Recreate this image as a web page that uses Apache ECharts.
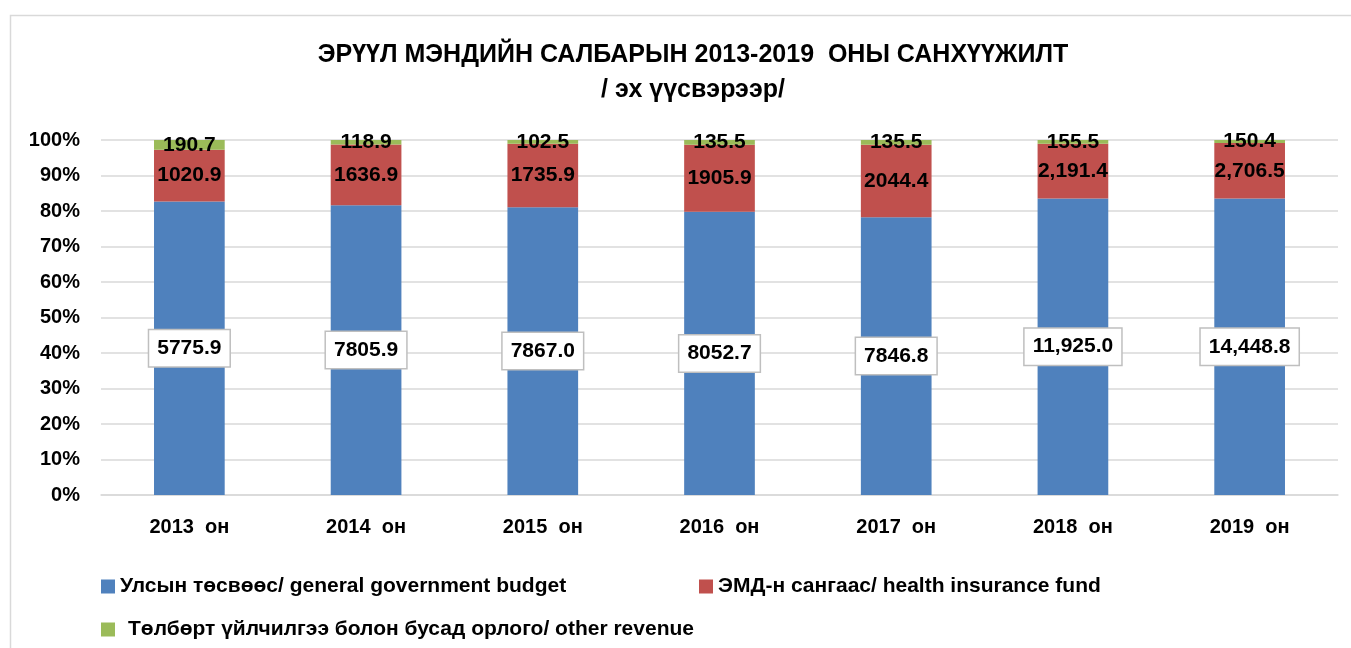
<!DOCTYPE html>
<html>
<head>
<meta charset="utf-8">
<script src="https://cdn.jsdelivr.net/npm/echarts@6/dist/echarts.min.js"></script>
<style>
  html, body { margin: 0; padding: 0; background: #fff; }
  #chart { width: 1351px; height: 648px; }
</style>
</head>
<body>
<div id="chart"></div>
<script>
// Data
var years = ['2013  он', '2014  он', '2015  он', '2016  он', '2017  он', '2018  он', '2019  он'];
var budget = [5775.9, 7805.9, 7867.0, 8052.7, 7846.8, 11925.0, 14448.8];
var insurance = [1020.9, 1636.9, 1735.9, 1905.9, 2044.4, 2191.4, 2706.5];
var other = [190.7, 118.9, 102.5, 135.5, 135.5, 155.5, 150.4];
// years from this index on show thousands separators in their labels
var commaFrom = 5;

var seriesNames = [
    'Улсын төсвөөс/ general government budget',
    'ЭМД-н сангаас/ health insurance fund',
    'Төлбөрт үйлчилгээ болон бусад орлого/ other revenue'
];
var titleLines = [
    'ЭРҮҮЛ МЭНДИЙН САЛБАРЫН 2013-2019  ОНЫ САНХҮҮЖИЛТ',
    '/ эх үүсвэрээр/'
];

var FONT = '"Liberation Sans", Arial, sans-serif';

var totals = years.map(function (y, i) {
    return budget[i] + insurance[i] + other[i];
});

function toShare(arr) {
    return arr.map(function (v, i) { return v / totals[i] * 100; });
}

function fmt(v, i) {
    if (i >= commaFrom) {
        return v.toLocaleString('en-US', { minimumFractionDigits: 1, maximumFractionDigits: 1 });
    }
    return v.toFixed(1);
}

var raw = [budget, insurance, other];
var colors = ['#4F81BD', '#C0504D', '#9BBB59'];

var chart = echarts.init(document.getElementById('chart'));

chart.setOption({
    animation: false,
    textStyle: { fontFamily: FONT },
    graphic: [{
        type: 'rect',
        shape: { x: 10.5, y: 15.5, width: 1345, height: 640 },
        style: { fill: 'none', stroke: '#d9d9d9', lineWidth: 1.5 },
        silent: true
    }].concat(titleLines.map(function (t, i) {
        // title drawn as text so it can sit a little right of centre, like the original
        return {
            type: 'text',
            x: 693,
            y: 55 + i * 35,
            silent: true,
            style: {
                text: t,
                align: 'center',
                verticalAlign: 'middle',
                fill: '#000',
                font: 'bold 25px ' + FONT
            }
        };
    })),
    legend: [
        { data: [seriesNames[0]], left: 96, top: 571, pad: 0 },
        { data: [seriesNames[1]], left: 694, top: 571, pad: 0 },
        { data: [seriesNames[2]], left: 96, top: 614, pad: 8 }
    ].map(function (l) {
        l.icon = 'rect';
        l.itemWidth = 14;
        l.itemHeight = 14;
        l.itemGap = 10;
        l.textStyle = {
            fontSize: 21, fontWeight: 'bold', color: '#000', fontFamily: FONT,
            padding: [0, 0, 0, l.pad]
        };
        delete l.pad;
        return l;
    }),
    grid: {
        left: 101,
        right: 13,
        top: 140,
        bottom: 153
    },
    xAxis: {
        type: 'category',
        data: years,
        axisLine: { lineStyle: { color: '#d9d9d9', width: 1.5 } },
        axisTick: { show: false },
        axisLabel: {
            fontSize: 20,
            fontWeight: 'bold',
            color: '#000',
            margin: 22,
            fontFamily: FONT
        }
    },
    yAxis: {
        type: 'value',
        min: 0,
        max: 100,
        interval: 10,
        axisLine: { show: false },
        axisTick: { show: false },
        splitLine: { lineStyle: { color: '#d9d9d9', width: 1.5 } },
        axisLabel: {
            formatter: '{value}%',
            fontSize: 20,
            fontWeight: 'bold',
            color: '#000',
            margin: 21,
            fontFamily: FONT
        }
    },
    series: raw.map(function (arr, s) {
        var label = {
            show: true,
            position: 'inside',
            fontSize: 21,
            fontWeight: 'bold',
            color: '#000',
            fontFamily: FONT,
            formatter: function (p) {
                return fmt(arr[p.dataIndex], p.dataIndex);
            }
        };
        if (s === 0) {
            label.backgroundColor = '#fff';
            label.borderColor = '#bfbfbf';
            label.borderWidth = 1.5;
            label.padding = [8, 8, 7, 8];
        }
        return {
            name: seriesNames[s],
            type: 'bar',
            stack: 'total',
            barWidth: '40%',
            itemStyle: { color: colors[s] },
            label: label,
            data: toShare(arr)
        };
    })
});
</script>
</body>
</html>
